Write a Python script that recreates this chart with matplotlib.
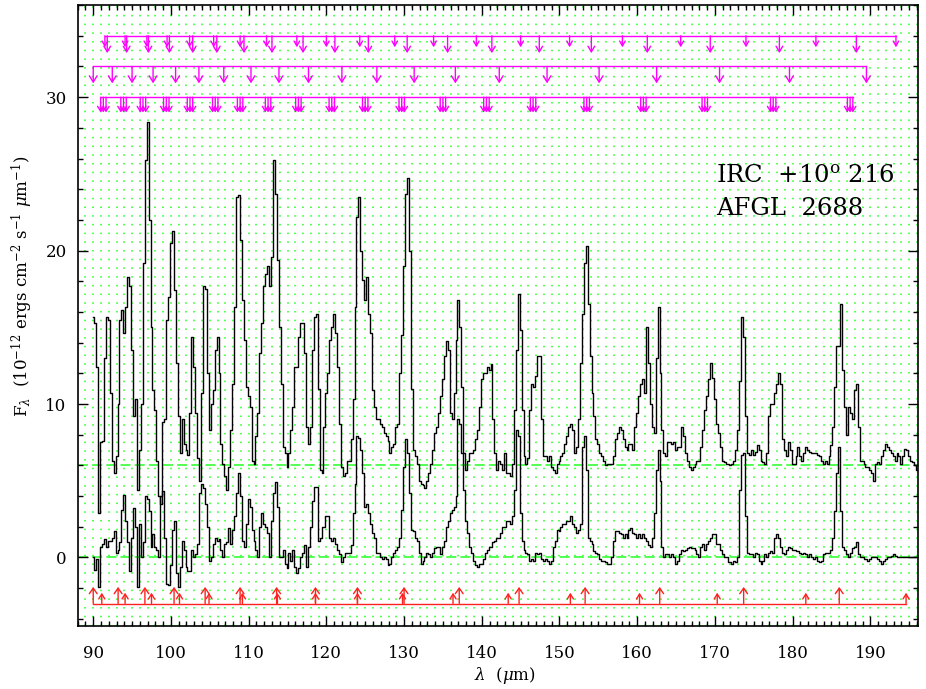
import numpy as np
import matplotlib
matplotlib.use("Agg")
import matplotlib.pyplot as plt
from matplotlib.ticker import MultipleLocator

plt.rcParams['font.family'] = ['DejaVu Serif']
plt.rcParams['mathtext.fontset'] = 'dejavuserif'

# ---------------- data ----------------
wl_start = 90.0     # first sample (micron)
wl_step = 0.25      # sampling step (micron)

# IRC +10 216 spectrum as plotted (offset by +6)
irc_flux = [
    15.7, 15.3, 12.4, 2.9, 7.5, 7.6, 13.0, 15.7, 15.5, 10.7,
    6.3, 5.5, 6.6, 10.0, 15.5, 16.1, 14.6, 16.3, 18.3, 17.7,
    13.5, 9.2, 10.3, 4.4, 7.0, 10.0, 19.2, 25.9, 28.4, 22.0,
    15.0, 10.9, 9.6, 6.3, 4.0, 3.5, 8.8, 9.0, 15.5, 17.0,
    20.5, 21.3, 17.4, 12.7, 9.2, 6.8, 9.0, 7.4, 7.0, 6.7,
    9.4, 14.4, 12.4, 9.4, 6.5, 5.0, 10.7, 17.7, 17.5, 12.0,
    8.3, 10.0, 10.9, 13.5, 14.4, 12.0, 7.4, 6.1, 5.3, 4.4,
    5.9, 8.3, 11.3, 16.3, 23.5, 23.6, 20.7, 16.8, 14.2, 11.1,
    10.5, 9.8, 6.3, 6.1, 7.9, 9.4, 13.3, 15.3, 17.7, 18.5,
    19.0, 17.7, 19.6, 25.9, 23.7, 19.4, 15.0, 11.3, 7.2, 6.8,
    5.9, 6.8, 8.3, 9.8, 12.4, 12.4, 14.4, 15.3, 15.3, 13.3,
    8.5, 7.4, 8.5, 13.5, 15.7, 15.9, 11.0, 5.7, 5.5, 8.5,
    10.7, 12.0, 14.2, 15.0, 15.9, 14.6, 12.4, 8.7, 5.9, 5.3,
    5.5, 6.3, 6.3, 7.7, 10.3, 16.3, 22.2, 23.5, 20.0, 18.1,
    16.8, 18.3, 15.9, 14.6, 10.9, 9.8, 9.0, 9.0, 8.7, 8.5,
    8.1, 7.9, 7.6, 6.8, 7.2, 7.4, 8.5, 8.7, 12.0, 14.5,
    19.0, 23.7, 24.7, 20.0, 11.0, 7.0, 6.6, 6.1, 5.0, 4.8,
    4.7, 4.5, 5.0, 5.5, 6.1, 7.0, 8.1, 8.5, 9.4, 10.5,
    11.6, 13.1, 14.1, 13.5, 9.4, 9.0, 10.7, 14.2, 16.8, 15.0,
    11.1, 6.8, 5.7, 6.3, 6.8, 6.8, 7.0, 7.7, 8.3, 9.8,
    11.6, 12.0, 12.0, 12.4, 12.2, 12.6, 9.0, 6.8, 5.7, 6.3,
    6.1, 5.7, 6.8, 5.5, 5.5, 5.3, 6.1, 9.6, 13.5, 17.2,
    14.8, 9.6, 6.6, 6.1, 6.5, 9.6, 11.3, 11.1, 11.8, 13.1,
    13.1, 9.0, 6.6, 6.6, 6.3, 6.6, 5.9, 5.7, 5.5, 6.1,
    6.3, 6.6, 6.8, 7.4, 7.9, 8.5, 8.7, 8.3, 6.8, 7.2,
    9.0, 12.7, 15.9, 19.2, 20.3, 16.5, 13.1, 10.7, 9.2, 7.7,
    7.4, 6.8, 6.6, 6.3, 6.0, 6.1, 6.1, 6.1, 6.6, 7.7,
    8.1, 8.5, 8.3, 7.7, 7.2, 7.0, 7.4, 7.4, 7.0, 8.5,
    9.4, 10.5, 11.3, 11.6, 10.7, 15.0, 12.7, 10.0, 8.5, 8.1,
    13.0, 16.3, 12.0, 8.3, 6.8, 6.6, 7.5, 7.5, 7.4, 7.5,
    7.0, 7.2, 7.2, 8.5, 7.9, 6.8, 6.3, 5.9, 5.7, 5.9,
    6.1, 6.3, 6.3, 7.2, 8.3, 9.6, 10.5, 11.6, 12.7, 11.7,
    10.3, 8.7, 8.1, 7.2, 6.3, 6.2, 6.1, 6.1, 6.0, 6.1,
    6.3, 7.0, 8.3, 11.5, 15.7, 14.4, 9.2, 6.8, 6.7, 7.0,
    6.7, 6.9, 7.3, 7.0, 6.3, 6.2, 6.1, 6.8, 9.2, 10.0,
    10.0, 10.7, 11.3, 12.0, 11.3, 7.7, 7.0, 6.6, 7.5, 7.0,
    6.1, 6.1, 6.6, 7.2, 6.6, 6.3, 6.8, 7.2, 7.0, 6.9,
    6.8, 6.8, 6.8, 6.7, 6.6, 6.3, 6.1, 6.3, 6.1, 6.6,
    7.3, 8.5, 11.1, 13.8, 13.8, 16.5, 12.2, 9.8, 8.0, 9.8,
    9.4, 9.0, 10.9, 11.3, 8.5, 6.3, 6.3, 6.1, 5.9, 5.9,
    5.7, 5.5, 5.0, 6.1, 6.2, 6.1, 6.6, 7.0, 7.4, 7.2,
    7.0, 6.8, 6.6, 6.3, 6.8, 6.6, 6.1, 6.6, 7.1, 7.0,
    6.6, 6.3, 6.2, 6.0, 5.7,
]

# AFGL 2688 spectrum
afgl_flux = [
    0.0, -0.8, -0.1, -1.9, 0.7, 0.9, 1.2, 0.7, 1.1, 1.1,
    1.3, 1.7, 0.3, 0.5, 1.0, 3.1, 4.1, 2.4, 1.0, -0.9,
    1.3, 3.2, 2.0, -1.9, 2.2, 0.0, 1.0, 4.0, 3.8, 3.0,
    0.7, 1.5, 0.7, 0.5, 0.0, 4.0, 4.3, 1.3, -1.7, -1.8,
    -0.5, 1.8, 2.4, -1.0, -1.9, -0.6, 1.1, 0.5, -0.6, -0.9,
    -0.9, 0.5, 0.0, 0.2, 0.9, 4.2, 4.8, 4.5, 3.5, 2.0,
    -0.2, 0.0, 0.9, 1.3, 1.1, 1.2, 0.5, 0.0, 0.9, 1.0,
    1.9, 0.9, 1.8, 2.7, 4.2, 5.5, 4.0, 1.1, 0.7, 2.2,
    3.8, 3.3, 1.8, 1.1, 0.5, 0.0, 2.0, 2.9, 2.2, 2.0,
    1.6, 0.0, 2.4, 4.2, 4.9, 3.3, 0.0, 0.0, 0.5, -0.4,
    -0.7, 0.3, -0.2, 0.5, -0.6, -1.0, -0.7, 0.0, 0.3, 0.8,
    -0.6, 0.7, 2.0, 3.7, 4.6, 4.6, 1.1, 1.3, 2.0, 2.0,
    2.7, 2.7, 1.3, 1.1, 1.3, 0.9, 0.5, 0.2, -0.3, 0.0,
    0.3, 0.3, 0.3, 0.8, 2.9, 4.8, 7.9, 7.8, 7.0, 5.5,
    3.3, 3.5, 2.9, 2.2, 1.6, 1.3, 0.3, 0.3, 0.0, -0.1,
    0.0, -0.1, -0.5, -0.4, 0.0, 0.3, 0.5, 0.7, 1.3, 3.1,
    5.9, 7.7, 6.8, 4.2, 1.8, 1.7, 1.3, 1.1, 0.3, -0.4,
    -0.2, 0.0, 0.3, 0.2, 0.0, 0.3, 0.6, 0.7, 0.7, 0.2,
    0.7, 1.1, 2.0, 2.4, 2.9, 3.1, 3.3, 4.0, 9.0, 8.7,
    6.8, 4.4, 2.4, 1.6, 0.7, 0.3, -0.2, -0.5, -0.6, -0.4,
    -0.4, -0.1, 0.3, 0.5, 0.7, 0.7, 1.0, 1.1, 1.3, 1.3,
    1.6, 2.0, 2.0, 2.4, 2.4, 2.2, 2.7, 4.4, 8.3, 7.9,
    2.9, 1.1, 0.5, 0.3, 0.2, -0.2, -0.1, -0.2, 0.3, 0.2,
    0.3, -0.1, -0.2, -0.1, -0.2, -0.4, -0.2, 0.7, 1.1, 1.8,
    1.7, 2.0, 2.2, 2.2, 2.4, 2.4, 2.7, 2.2, 2.0, 1.6,
    1.8, 2.2, 7.2, 7.9, 5.7, 1.3, 1.1, 0.9, 0.4, 0.3,
    0.2, -0.1, -0.2, -0.2, -0.3, -0.4, -0.4, 0.0, 1.1, 1.7,
    1.7, 1.6, 1.5, 1.3, 1.5, 1.3, 1.8, 1.9, 1.6, 1.5,
    1.3, 1.5, 1.3, 1.5, 1.3, 1.1, 0.8, 0.7, 1.3, 2.9,
    5.7, 7.0, 5.0, 0.7, 0.0, 0.2, 0.2, 0.0, 0.2, 0.0,
    -0.4, -0.2, 0.2, 0.5, 0.4, 0.5, 0.6, 0.7, 0.6, 0.6,
    0.5, 0.2, 0.0, 0.7, 0.9, 0.5, 0.9, 1.1, 1.3, 1.5,
    1.5, 0.9, 0.9, 0.5, 0.2, 0.0, 0.0, -0.3, -0.3, -0.4,
    -0.2, -0.3, 0.0, 4.4, 6.7, 6.8, 2.7, 0.3, 0.2, 0.2,
    0.0, 0.3, 0.2, -0.2, -0.4, -0.2, 0.2, 0.0, 0.3, 0.4,
    0.3, 1.3, 1.5, 1.3, 0.7, 0.3, 0.2, 0.5, 0.7, 0.6,
    0.5, 0.5, 0.4, 0.4, 0.3, 0.2, 0.3, 0.2, 0.0, 0.2,
    0.0, -0.1, 0.0, -0.2, -0.3, -0.2, 0.2, 0.3, 0.3, 0.3,
    0.5, 1.3, 3.0, 5.5, 7.2, 3.0, 0.7, 0.5, 0.2, 0.0,
    0.3, 0.6, 0.7, 1.0, 0.2, 0.0, 0.0, -0.1, -0.1, -0.2,
    -0.1, 0.0, 0.0, 0.0, -0.1, -0.2, -0.4, -0.2, -0.1, 0.0,
    0.0, 0.1, 0.2, 0.1, 0.0, 0.0, 0.0, 0.0, 0.0, 0.0,
    0.0, 0.0, 0.0, 0.0, 0.0,
]

baselines = [0.0, 6.0]

# magenta line ladders (wavelengths, micron)
ladder1_short = [91.5, 94.1, 96.9, 99.5, 102.4, 105.5, 108.9, 112.3, 116.2, 120.0,
                 124.3, 128.8, 133.8, 139.3, 145.0, 151.3, 158.1, 165.6, 174.0, 183.0, 193.3]
ladder1_long = [91.8, 94.3, 97.1, 99.8, 102.8, 105.9, 109.4, 113.0, 117.0, 121.1,
                125.4, 130.4, 135.6, 141.3, 147.4, 154.1, 161.3, 169.4, 178.3, 188.2]
ladder2 = [90.0, 92.45, 95.0, 97.7, 100.6, 103.6, 106.8, 110.3, 113.9, 117.7, 122.0,
           126.5, 131.3, 136.6, 142.25, 148.4, 155.1, 162.5, 170.6, 179.6, 189.5]
ladder3_centers = [91.3, 93.9, 96.4, 99.4, 102.45, 105.7, 108.9, 112.5, 116.4, 120.7,
                   125.0, 129.7, 135.0, 140.6, 146.6, 153.5, 160.8, 168.7, 177.5, 187.4]
ladder3_split = [-0.35, 0.0, 0.35]

# red line ladder
red_tall = [90.0, 93.2, 96.65, 100.4, 104.4, 108.9, 113.6, 118.6, 124.0, 130.0,
            137.1, 144.8, 153.3, 162.9, 173.7, 186.0]
red_short = [91.1, 94.1, 97.5, 101.1, 104.9, 109.2, 113.7, 118.6, 124.0, 129.8,
             136.3, 143.4, 151.4, 160.3, 170.3, 181.7, 194.6]

labels = ["IRC  +10$^{\\rm o}$ 216", "AFGL  2688"]

# ---------------- figure ----------------
fig = plt.figure(figsize=(9.26, 6.89), dpi=100)
ax = fig.add_axes([0.0839, 0.0918, 0.908, 0.9008])
ax.set_xlim(88.0, 196.2)
ax.set_ylim(-4.45, 36.0)

# dotted grid
ax.vlines(np.arange(89, 197), -4.45, 36.0, colors='#22ff22', lw=1.1,
          linestyles=[(0, (1, 4.7))], zorder=0)
for b in baselines:
    ax.axhline(b, color='#33ff33', lw=1.2, ls=(0, (6, 2.5)), zorder=1)

wl = wl_start + wl_step * np.arange(len(irc_flux))
wl2 = wl_start + wl_step * np.arange(len(afgl_flux))
ax.plot(wl, irc_flux, drawstyle='steps-mid', color='black', lw=1.0, zorder=3)
ax.plot(wl2, afgl_flux, drawstyle='steps-mid', color='black', lw=1.0, zorder=3)


def ladder_line(xs, y0, color):
    ax.plot([min(xs), max(xs)], [y0, y0], color=color, lw=1.0, zorder=4)


def ladder_arrows(xs, y0, tip, color, hl=0.4, hw=0.24):
    for x in xs:
        ax.annotate('', xy=(x, tip), xytext=(x, y0),
                    arrowprops=dict(arrowstyle='->,head_length=%g,head_width=%g' % (hl, hw),
                                    color=color, lw=1.0, shrinkA=0, shrinkB=0),
                    zorder=4)


mag = '#ff00ff'
ladder_line(ladder1_short + ladder1_long, 34.0, mag)
ladder_arrows(ladder1_short, 34.0, 33.25, mag, hl=0.35, hw=0.2)
ladder_arrows(ladder1_long, 34.0, 32.87, mag, hl=0.4, hw=0.24)
ladder_line(ladder2, 32.0, mag)
ladder_arrows(ladder2, 32.0, 30.9, mag, hl=0.45, hw=0.28)
l3 = [c + s for c in ladder3_centers for s in ladder3_split]
ladder_line(l3, 30.0, mag)
ladder_arrows(l3, 30.0, 29.0, mag, hl=0.35, hw=0.22)

red = '#ff2020'
ladder_line(red_tall + red_short, -3.0, red)
ladder_arrows(red_tall, -3.0, -1.92, red, hl=0.4, hw=0.28)
ladder_arrows(red_short, -3.0, -2.3, red, hl=0.35, hw=0.22)

# ticks
ax.xaxis.set_major_locator(MultipleLocator(10))
ax.xaxis.set_minor_locator(MultipleLocator(1))
ax.yaxis.set_major_locator(MultipleLocator(10))
ax.yaxis.set_minor_locator(MultipleLocator(2))
ax.tick_params(which='both', direction='in', top=True, right=True, width=1.0)
ax.tick_params(which='major', length=7)
ax.tick_params(which='minor', length=3.5)
ax.tick_params(axis='x', which='major', labelsize=12, pad=14)
ax.tick_params(axis='y', which='major', labelsize=12, pad=8)
for s in ax.spines.values():
    s.set_linewidth(1.2)

# text
ax.text(170.2, 24.4, labels[0], fontsize=17.5, va='baseline', ha='left', zorder=5)
ax.text(170.2, 22.35, labels[1], fontsize=17.5, va='baseline', ha='left', zorder=5)

fig.text(505 / 926, 1 - 675 / 689, r'$\lambda$  ($\mu$m)', fontsize=12,
         ha='center', va='center')
fig.text(22 / 926, 1 - 286 / 689,
         r'F$_\lambda$  (10$^{-12}$ ergs cm$^{-2}$ s$^{-1}$ $\mu$m$^{-1}$)',
         fontsize=12, rotation=90, ha='center', va='center')

fig.savefig('out.png', dpi=100)
